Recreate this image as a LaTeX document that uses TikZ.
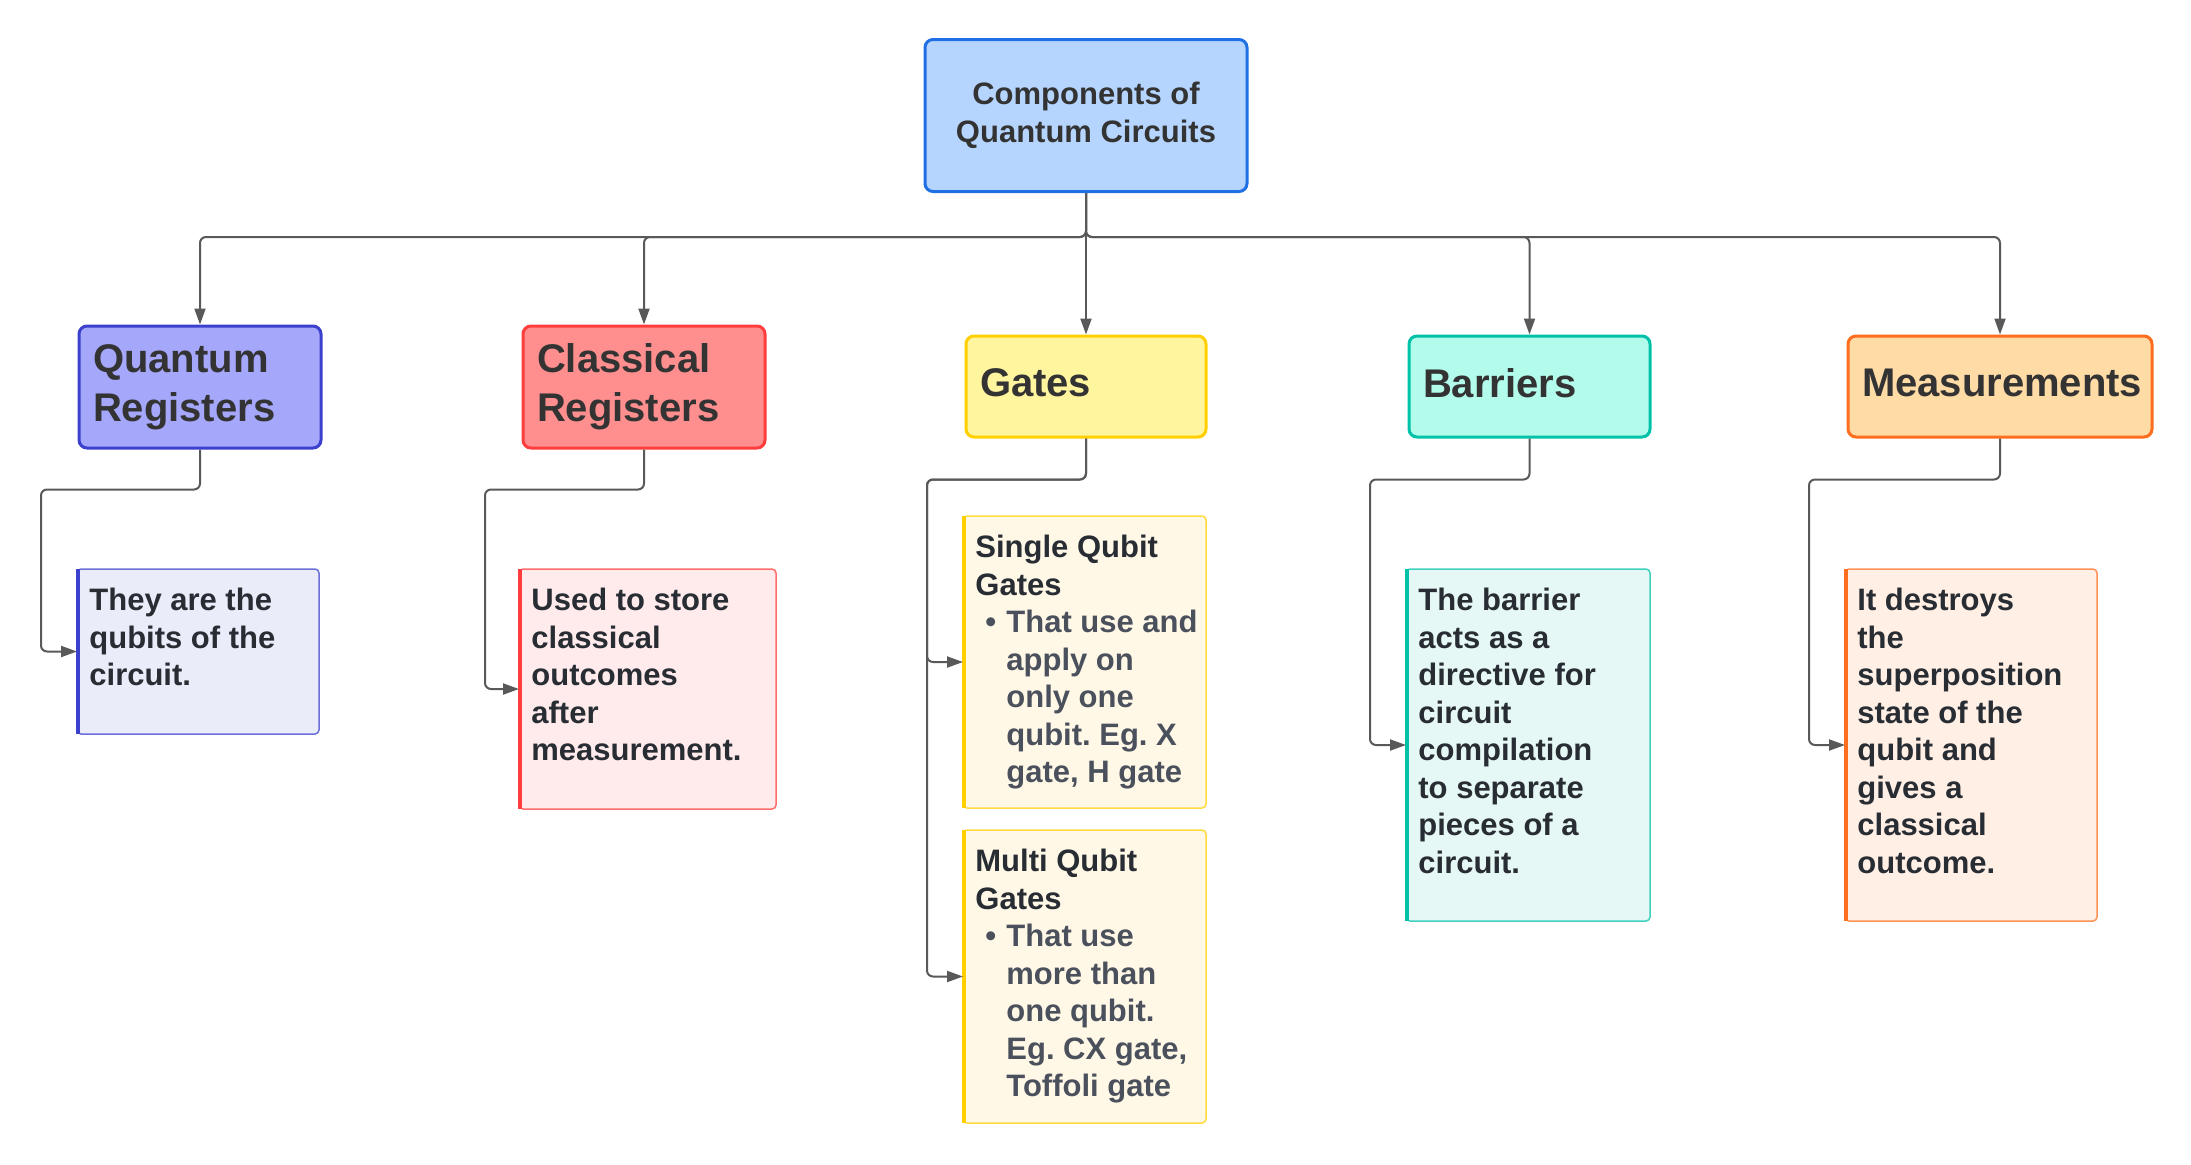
\documentclass[tikz,border=0pt]{standalone}
\usepackage{fontspec}
\setmainfont{Liberation Sans}
\usetikzlibrary{arrows.meta}
\frenchspacing
\definecolor{topfill}{HTML}{B6D5FE}
\definecolor{topline}{HTML}{1F6FE5}
\definecolor{qfill}{HTML}{A5A7FB}
\definecolor{qline}{HTML}{3B41CC}
\definecolor{qsoft}{HTML}{EBECF9}
\definecolor{cfill}{HTML}{FF8F8F}
\definecolor{cline}{HTML}{FF3D3D}
\definecolor{csoft}{HTML}{FFEBEC}
\definecolor{gfill}{HTML}{FFF59F}
\definecolor{gline}{HTML}{FFCF00}
\definecolor{gsoft}{HTML}{FFF8E7}
\definecolor{bfill}{HTML}{B3FCEB}
\definecolor{bline}{HTML}{00C2A8}
\definecolor{bsoft}{HTML}{E6F8F5}
\definecolor{mfill}{HTML}{FFDBA6}
\definecolor{mline}{HTML}{FF6D1F}
\definecolor{msoft}{HTML}{FFEFE5}
\definecolor{textgray}{HTML}{333333}
\definecolor{notedark}{HTML}{282C33}
\definecolor{bulletgray}{HTML}{4B515C}
\definecolor{linegray}{HTML}{595959}
\tikzstyle{topbox}=[draw=topline,fill=topfill,line width=1.5pt,rounded corners=4pt,minimum width=161pt,minimum height=76pt,align=center,text=textgray,font=\fontsize{15.5}{19}\selectfont\bfseries]
\tikzstyle{headbox}=[line width=1.5pt,rounded corners=4pt,inner xsep=7pt,align=left,text=textgray,font=\fontsize{20}{24.5}\selectfont\bfseries]
\tikzstyle{notebox}=[line width=0.75pt,rounded corners=2pt,outer sep=0pt]
\tikzstyle{notetext}=[anchor=north west,inner sep=0pt,align=left,text=notedark,font=\fontsize{15.5}{18.75}\selectfont\bfseries]
\tikzstyle{myarrow}=[line width=1pt,draw=linegray,rounded corners=3pt,-{Triangle[length=8pt,width=5.5pt]}]
\newcommand{\bulletline}[1]{\hspace*{5pt}\makebox[10.5pt][l]{\textcolor{bulletgray}{•}}\textcolor{bulletgray}{#1}}
\newcommand{\bulletcont}[1]{\hspace*{15.5pt}\textcolor{bulletgray}{#1}}

\begin{document}
\begin{tikzpicture}[x=0.5pt,y=-0.5pt]
		\useasboundingbox (0,0) rectangle (2191,1164);

		% root
		\node[topbox] (top) at (1086,115.5) {Components of\\Quantum Circuits};

		% first level
		\node[headbox,draw=qline,fill=qfill,minimum width=121pt,minimum height=61pt,text width=107pt] (qr) at (200,387) {Quantum\\Registers};
		\node[headbox,draw=cline,fill=cfill,minimum width=121pt,minimum height=61pt,text width=107pt] (cr) at (644,387) {Classical\\Registers};
		\node[headbox,draw=gline,fill=gfill,minimum width=120pt,minimum height=50.5pt,text width=106pt,text depth=4pt] (gates) at (1086,386.5) {Gates};
		\node[headbox,draw=bline,fill=bfill,minimum width=120.5pt,minimum height=50.5pt,text width=106.5pt,text depth=4pt] (barr) at (1529.5,386.5) {Barriers};
		\node[headbox,draw=mline,fill=mfill,minimum width=152pt,minimum height=50.5pt,text width=138pt,text depth=4pt] (meas) at (2000,386.5) {Measurements};

		\draw[myarrow] (top.south) -- ++(0,44) -| (qr.north);
		\draw[myarrow] (top.south) -- ++(0,44) -| (cr.north);
		\draw[myarrow] (top.south) -- (gates.north);
		\draw[myarrow] (top.south) -- ++(0,44) -| (barr.north);
		\draw[myarrow] (top.south) -- ++(0,44) -| (meas.north);

		% notes
		\node[notebox,draw=qline!75,fill=qsoft,minimum width=121pt,minimum height=82.5pt] (qc) at (198,651.5) {};
		\node[notebox,draw=cline!75,fill=csoft,minimum width=128.5pt,minimum height=120pt] (cc) at (647.5,689) {};
		\node[notebox,draw=gline!75,fill=gsoft,minimum width=121.5pt,minimum height=146pt] (sg) at (1084.5,662) {};
		\node[notebox,draw=gline!75,fill=gsoft,minimum width=121.5pt,minimum height=146.5pt] (mg) at (1084.5,976.5) {};
		\node[notebox,draw=bline!75,fill=bsoft,minimum width=122pt,minimum height=176pt] (bc) at (1528,745) {};
		\node[notebox,draw=mline!75,fill=msoft,minimum width=126pt,minimum height=176pt] (mc) at (1971,745) {};

		\fill[qline] ([xshift=-0.5pt]qc.north west) rectangle ([xshift=1.5pt]qc.south west);
		\fill[cline] ([xshift=-0.5pt]cc.north west) rectangle ([xshift=1.5pt]cc.south west);
		\fill[gline] ([xshift=-0.5pt]sg.north west) rectangle ([xshift=1.5pt]sg.south west);
		\fill[gline] ([xshift=-0.5pt]mg.north west) rectangle ([xshift=1.5pt]mg.south west);
		\fill[bline] ([xshift=-0.5pt]bc.north west) rectangle ([xshift=1.5pt]bc.south west);
		\fill[mline] ([xshift=-0.5pt]mc.north west) rectangle ([xshift=1.5pt]mc.south west);

		\node[notetext] (qctext) at ([xshift=6pt,yshift=-9.5pt]qc.north west) {They are the\\qubits of the\\circuit.};
		\node[notetext] (cctext) at ([xshift=6pt,yshift=-9.5pt]cc.north west) {Used to store\\classical\\outcomes\\after\\measurement.};
		\node[notetext] (sgtext) at ([xshift=6pt,yshift=-9.5pt]sg.north west) {Single Qubit\\Gates\\\bulletline{That use and}\\\bulletcont{apply on}\\\bulletcont{only one}\\\bulletcont{qubit. Eg. X}\\\bulletcont{gate, H gate}};
		\node[notetext] (mgtext) at ([xshift=6pt,yshift=-9.5pt]mg.north west) {Multi Qubit\\Gates\\\bulletline{That use}\\\bulletcont{more than}\\\bulletcont{one qubit.}\\\bulletcont{Eg. CX gate,}\\\bulletcont{Toffoli gate}};
		\node[notetext] (bctext) at ([xshift=6pt,yshift=-9.5pt]bc.north west) {The barrier\\acts as a\\directive for\\circuit\\compilation\\to separate\\pieces of a\\circuit.};
		\node[notetext] (mctext) at ([xshift=6pt,yshift=-9.5pt]mc.north west) {It destroys\\the\\superposition\\state of the\\qubit and\\gives a\\classical\\outcome.};

		\draw[myarrow] (qr.south) -- ++(0,40) -| ([xshift=-18pt]qc.west) -- (qc.west);
		\draw[myarrow] (cr.south) -- ++(0,40) -| ([xshift=-17pt]cc.west) -- (cc.west);
		\draw[myarrow] (gates.south) -- ++(0,41) -| ([xshift=-18pt]sg.west) -- (sg.west);
		\draw[myarrow] (gates.south) -- ++(0,41) -| ([xshift=-18pt]mg.west) -- (mg.west);
		\draw[myarrow] (barr.south) -- ++(0,41) -| ([xshift=-18pt]bc.west) -- (bc.west);
		\draw[myarrow] (meas.south) -- ++(0,41) -| ([xshift=-18pt]mc.west) -- (mc.west);
	\end{tikzpicture}
\end{document}
